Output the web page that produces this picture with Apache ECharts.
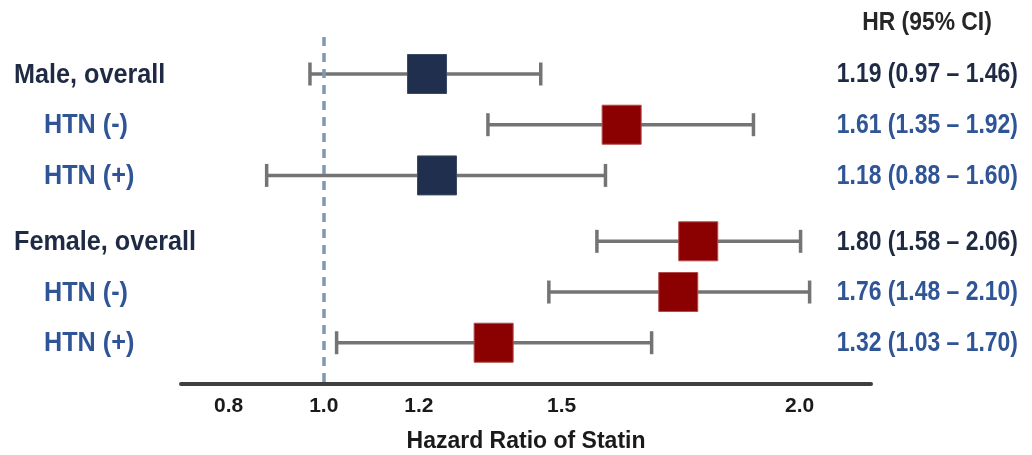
<!DOCTYPE html>
<html>
<head>
<meta charset="utf-8">
<script src="https://cdn.jsdelivr.net/npm/echarts@6/dist/echarts.min.js"></script>
<style>
  html, body { margin: 0; padding: 0; background: #ffffff; }
  #chart { width: 1032px; height: 455px; }
</style>
</head>
<body>
<div id="chart"></div>
<script>
// ---- Data ----
const categories = ['Male, overall', 'HTN (-)', 'HTN (+)', 'Female, overall', 'HTN (-)', 'HTN (+)'];
const groupIndex = [0, 0, 0, 1, 1, 1];
const isSubgroup = [false, true, true, false, true, true];
const hazardRatio = [1.217, 1.626, 1.238, 1.787, 1.745, 1.357];
const ciLower = [0.971, 1.345, 0.880, 1.574, 1.473, 1.027];
const ciUpper = [1.456, 1.903, 1.592, 2.002, 2.021, 1.689];
const hrText = [
  '1.19 (0.97 \u2013 1.46)',
  '1.61 (1.35 \u2013 1.92)',
  '1.18 (0.88 \u2013 1.60)',
  '1.80 (1.58 \u2013 2.06)',
  '1.76 (1.48 \u2013 2.10)',
  '1.32 (1.03 \u2013 1.70)'
];
const xTickValues = [0.8, 1.0, 1.2, 1.5, 2.0];
const referenceLine = 1.0;
const headerText = 'HR (95% CI)';
const axisTitle = 'Hazard Ratio of Statin';

// ---- Styling ----
const FONT = "'Liberation Sans', Arial, sans-serif";
const GROUP_GAP = 0.3;
const DARK_TEXT = '#1f2a44';
const BLUE_TEXT = '#2f5597';
const NAVY = '#1f2f4d';
const RED = '#8b0000';
const WHISKER = '#747474';
const SQUARE = 39;
const CAP_HALF = 11.5;

const rowPos = categories.map((c, i) => i + groupIndex[i] * GROUP_GAP);
const seriesData = categories.map((c, i) => [hazardRatio[i], ciLower[i], ciUpper[i], rowPos[i], i]);

const chart = echarts.init(document.getElementById('chart'), null, { renderer: 'canvas' });

const option = {
  animation: false,
  backgroundColor: '#ffffff',
  graphic: [{
    type: 'text',
    x: 927,
    y: 23,
    scaleX: 0.88,
    style: { text: headerText, fontFamily: FONT, fontSize: 26, fontWeight: 'bold', fill: '#262626',
             align: 'center', verticalAlign: 'middle' }
  }],
  grid: { left: 181, right: 161, top: 37, bottom: 71, containLabel: false, outerBoundsMode: 'none' },
  xAxis: {
    type: 'value',
    min: 0.7,
    max: 2.15,
    splitLine: { show: false },
    axisTick: { show: false },
    axisLine: { show: true, onZero: false, lineStyle: { color: '#3f3f3f', width: 4 } },
    axisLabel: {
      customValues: xTickValues,
      formatter: v => v.toFixed(1),
      margin: 12,
      fontFamily: FONT, fontSize: 21, fontWeight: 'bold', color: '#1a1a1a'
    },
    name: axisTitle,
    nameLocation: 'middle',
    nameGap: 46,
    nameTextStyle: { fontFamily: FONT, fontSize: 23, fontWeight: 'bold', color: '#1a1a1a' }
  },
  yAxis: {
    type: 'value',
    inverse: true,
    min: -0.73,
    max: 6.114,
    show: false
  },
  series: [{
    type: 'custom',
    clip: false,
    data: seriesData,
    encode: { x: [0, 1, 2], y: 3 },
    renderItem: function (params, api) {
      const i = api.value(4);
      const est = api.coord([api.value(0), api.value(3)]);
      const lo = api.coord([api.value(1), api.value(3)]);
      const hi = api.coord([api.value(2), api.value(3)]);
      const y = est[1];
      const sq = ciLower[i] > referenceLine ? RED : NAVY;
      const lineStyle = { stroke: WHISKER, lineWidth: 3.5 };
      return {
        type: 'group',
        children: [
          { type: 'line', shape: { x1: lo[0], y1: y, x2: hi[0], y2: y }, style: lineStyle },
          { type: 'line', shape: { x1: lo[0], y1: y - CAP_HALF, x2: lo[0], y2: y + CAP_HALF }, style: lineStyle },
          { type: 'line', shape: { x1: hi[0], y1: y - CAP_HALF, x2: hi[0], y2: y + CAP_HALF }, style: lineStyle },
          { type: 'rect', shape: { x: est[0] - SQUARE / 2, y: y - SQUARE / 2, width: SQUARE, height: SQUARE },
            style: { fill: sq, stroke: sq === RED ? '#b34a4a' : '#3a4a66', lineWidth: 1 } },
          { type: 'text', x: isSubgroup[i] ? 44 : 14, y: y + 1, scaleX: 0.9,
            style: { text: categories[i], fontFamily: FONT, fontSize: 28, fontWeight: 'bold',
                     fill: isSubgroup[i] ? BLUE_TEXT : DARK_TEXT, align: 'left', verticalAlign: 'middle' } },
          { type: 'text', x: 1018, y: y + 1, scaleX: 0.85,
            style: { text: hrText[i], fontFamily: FONT, fontSize: 27, fontWeight: 'bold',
                     fill: isSubgroup[i] ? BLUE_TEXT : DARK_TEXT, align: 'right', verticalAlign: 'middle' } }
        ]
      };
    },
    markLine: {
      silent: true,
      symbol: 'none',
      label: { show: false },
      lineStyle: { color: '#8497b0', width: 3.5, type: [9, 7] },
      data: [{ xAxis: referenceLine }]
    }
  }]
};

chart.setOption(option);
</script>
</body>
</html>
